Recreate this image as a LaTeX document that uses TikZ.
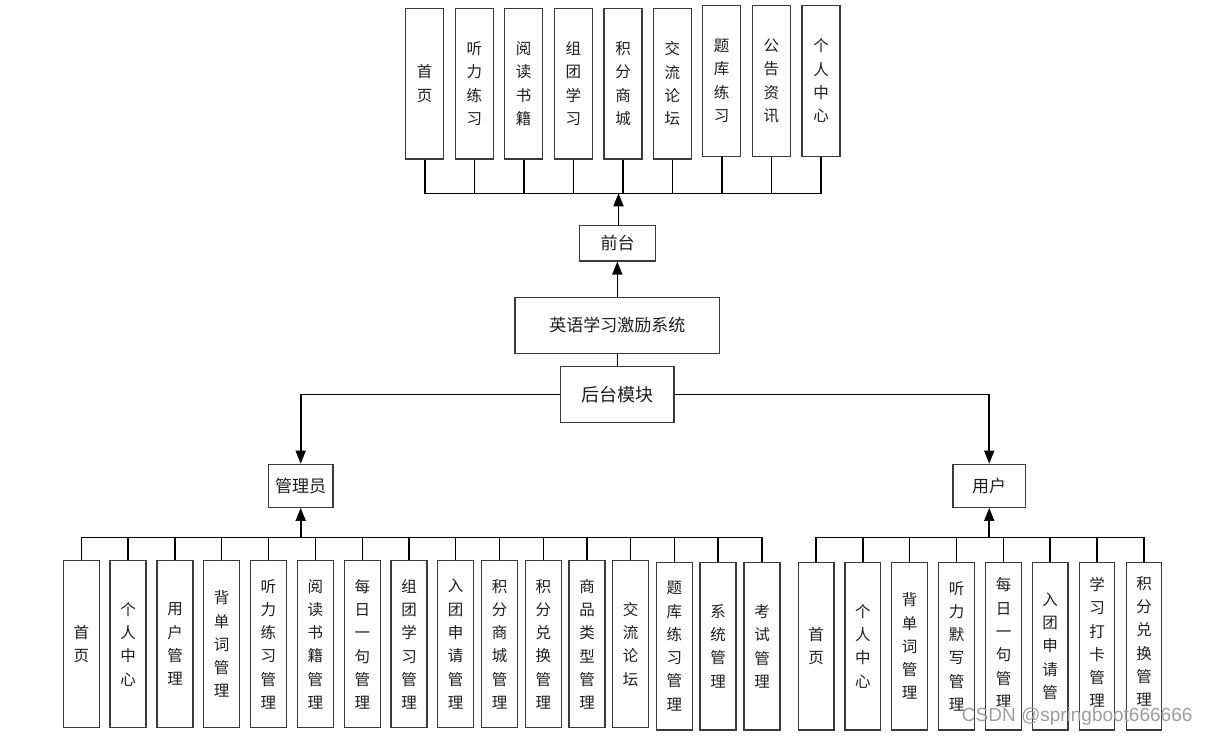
\documentclass[tikz,border=0pt]{standalone}
\usepackage{fontspec}
\newfontfamily\cjk{Noto Sans CJK SC}
\setsansfont{Liberation Sans}
\usetikzlibrary{arrows.meta}
\definecolor{boxc}{HTML}{3A3A3A}
\definecolor{txtc}{HTML}{1E1E1E}
\newcommand\myvfont{\cjk\fontsize{15.5}{23.3}\selectfont}
\newcommand\mymfont{\cjk\fontsize{17}{19}\selectfont}
\begin{document}
\begin{tikzpicture}[x=1pt,y=-1pt,
  basebox/.style={draw=boxc, line width=1.2pt, inner sep=0pt, align=center, text=txtc},
  tbox/.style={basebox, minimum width=38pt, minimum height=150.5pt, font=\myvfont},
  lbox/.style={basebox, minimum width=36pt, minimum height=167pt, font=\myvfont},
  rbox/.style={basebox, minimum width=35.7pt, minimum height=167.7pt, font=\myvfont},
  rtext/.style={inner sep=0pt, align=center, text=txtc, font=\myvfont},
  mbox/.style={basebox, font=\mymfont},
  conn/.style={line width=1.6pt, black},
  thinconn/.style={line width=1pt, black},
  arr/.style={line width=1.6pt, black, -{Triangle[width=10pt,length=13pt]}}
]
\useasboundingbox[fill=white] (0,0) rectangle (1213,736);

% ---- top row ----
\node[tbox] (t1) at (424.7,83.7) {首\\页};
\node[tbox] (t2) at (474.3,83.7) {听\\力\\练\\习};
\node[tbox] (t3) at (523.7,83.7) {阅\\读\\书\\籍};
\node[tbox] (t4) at (573.3,83.7) {组\\团\\学\\习};
\node[tbox] (t5) at (623.0,83.7) {积\\分\\商\\城};
\node[tbox] (t6) at (672.3,83.7) {交\\流\\论\\坛};
\node[tbox] (t7) at (721.7,80.9) {题\\库\\练\\习};
\node[tbox] (t8) at (771.4,80.9) {公\\告\\资\\讯};
\node[tbox] (t9) at (821.0,80.9) {个\\人\\中\\心};

% ---- middle ----
\node[mbox, minimum width=76.4pt, minimum height=35.3pt] (qt) at (617.5,243.3) {前台};
\node[mbox, minimum width=204.6pt, minimum height=56pt] (sys) at (617.3,325.3) {英语学习激励系统};
\node[mbox, minimum width=113.3pt, minimum height=55.6pt, font=\cjk\fontsize{18}{20}\selectfont] (ht) at (617.3,394.5) {后台模块};
\node[mbox, minimum width=64.6pt, minimum height=43pt] (adm) at (300.7,485.8) {管理员};
\node[mbox, minimum width=72.5pt, minimum height=43pt] (usr) at (989.2,485.8) {用户};

% ---- bottom left ----
\node[lbox] (l1) at (81.3,644.2) {首\\页};
\node[lbox] (l2) at (128.0,644.2) {个\\人\\中\\心};
\node[lbox] (l3) at (175.0,644.2) {用\\户\\管\\理};
\node[lbox] (l4) at (221.7,644.2) {背\\单\\词\\管\\理};
\node[lbox] (l5) at (268.3,644.2) {听\\力\\练\\习\\管\\理};
\node[lbox] (l6) at (315.3,644.2) {阅\\读\\书\\籍\\管\\理};
\node[lbox] (l7) at (362.3,644.2) {每\\日\\一\\句\\管\\理};
\node[lbox] (l8) at (409.0,644.2) {组\\团\\学\\习\\管\\理};
\node[lbox] (l9) at (455.7,644.2) {入\\团\\申\\请\\管\\理};
\node[lbox] (l10) at (499.5,644.2) {积\\分\\商\\城\\管\\理};
\node[lbox] (l11) at (543.3,644.2) {积\\分\\兑\\换\\管\\理};
\node[lbox] (l12) at (587.0,644.2) {商\\品\\类\\型\\管\\理};
\node[lbox] (l13) at (630.7,644.2) {交\\流\\论\\坛};
\node[lbox, minimum height=167.7pt] (l14) at (674.3,646.2) {题\\库\\练\\习\\管\\理};
\node[lbox, minimum height=167.7pt] (l15) at (718.0,646.2) {系\\统\\管\\理};
\node[lbox, minimum height=167.7pt] (l16) at (762.0,646.2) {考\\试\\管\\理};

% ---- bottom right ----
\node[rbox] (r1) at (816.2,646.2) {首\\页};
\node[rbox] (r2) at (862.9,646.2) {个\\人\\中\\心};
\node[rbox] (r3) at (909.6,646.2) {背\\单\\词\\管\\理};
\node[rbox] (r4) at (956.5,646.2) {听\\力\\默\\写\\管\\理};
\node[rbox] (r5) at (1003.5,646.2) {};
\node[rbox] (r6) at (1050.2,646.2) {};
\node[rbox] (r7) at (1097.0,646.2) {};
\node[rbox] (r8) at (1144.0,646.2) {};
\begin{scope}
  \clip (980,560) rectangle (1170,706);
  \node[rtext] (r5t) at (1003.5,643) {每\\日\\一\\句\\管\\理};
  \node[rtext] (r6t) at (1050.2,657.5) {入\\团\\申\\请\\管\\理};
  \node[rtext] (r7t) at (1097.0,642.5) {学\\习\\打\\卡\\管\\理};
  \node[rtext] (r8t) at (1144.0,641.5) {积\\分\\兑\\换\\管\\理};
\end{scope}

% ---- connectors: top ----
\coordinate (tb) at (618.5,193.3);
\draw[conn] (t1.south) -- (t1.south |- tb) -| (t9.south);
\foreach \i in {2,...,8} {\draw[conn] (t\i.south) -- (t\i.south |- tb);}
\draw[arr] (qt.north -| tb) -- (tb);
\draw[arr] (sys.north) -- (sys.north |- qt.south);
\draw[thinconn] (sys.south) -- (sys.south |- ht.north);
\draw[arr] (ht.west) -| (adm.north);
\draw[arr] (ht.east) -| (usr.north);

% ---- connectors: bottom left ----
\coordinate (lb) at (300.7,537.3);
\draw[conn, line width=1.4pt] (l1.north) -- (l1.north |- lb) -| (l16.north);
\foreach \i in {2,...,15} {\draw[conn, line width=1.4pt] (l\i.north) -- (l\i.north |- lb);}
\draw[arr] (adm.south |- lb) -- (adm.south);

% ---- connectors: bottom right ----
\coordinate (rb) at (989.2,537.3);
\draw[conn] (r1.north) -- (r1.north |- rb) -| (r8.north);
\foreach \i in {2,...,7} {\draw[conn] (r\i.north) -- (r\i.north |- rb);}
\draw[arr] (usr.south |- rb) -- (usr.south);

% ---- watermark ----
\node[anchor=base west, inner sep=0pt, font=\sffamily\fontsize{19}{19}\selectfont, text=black!38] (wm) at (961.7,721.7) {CSDN @springboot666666};
\end{tikzpicture}
\end{document}
